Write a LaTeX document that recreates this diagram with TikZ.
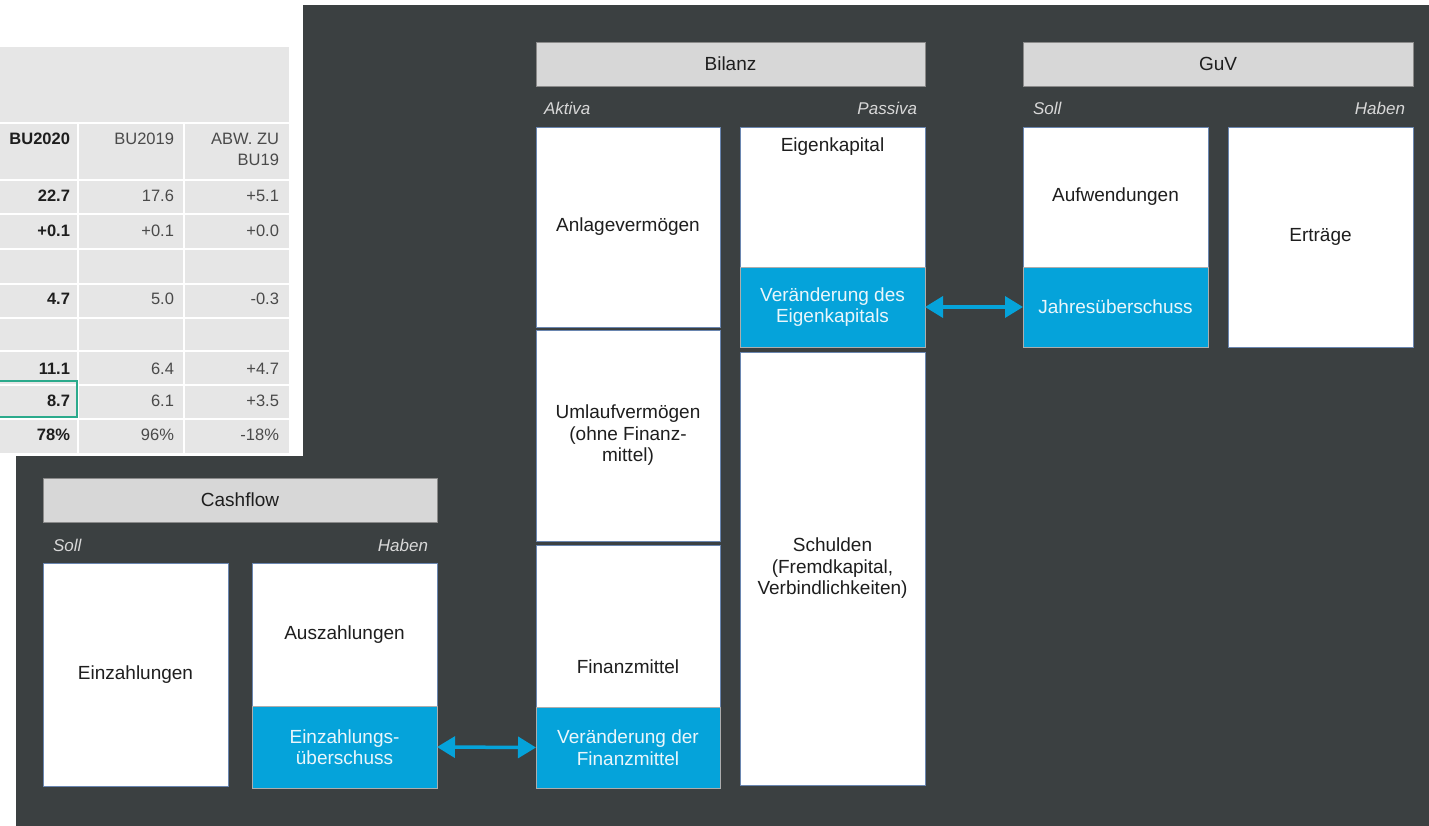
\documentclass[tikz,border=0pt]{standalone}
\usepackage{fontspec}
\setmainfont{Liberation Sans}
\usetikzlibrary{arrows.meta}
\definecolor{darkbg}{HTML}{3B4041}
\definecolor{cellgray}{HTML}{E6E6E6}
\definecolor{hdrgray}{HTML}{D7D7D7}
\definecolor{hdrline}{HTML}{8A8A8A}
\definecolor{boxline}{HTML}{6A86B0}
\definecolor{accent}{HTML}{05A3DA}
\definecolor{txt}{HTML}{1E1E1E}
\definecolor{lbl}{HTML}{D8D8D8}
\definecolor{tgray}{HTML}{4A4A4A}
\definecolor{tealgreen}{HTML}{2BAA8C}
\definecolor{bluetxt}{HTML}{EAF6FB}
\begin{document}
\begin{tikzpicture}[x=1pt,y=-1pt,
  every node/.style={inner sep=0pt, outer sep=0pt},
  wbox/.style={draw=boxline, fill=white, line width=0.8pt, anchor=north west, text=txt, align=center,
     font=\fontsize{19}{21.5}\selectfont},
  bbox/.style={draw=hdrline!70, fill=accent, line width=0.6pt, anchor=north west, text=bluetxt, align=center,
     font=\fontsize{19}{21.5}\selectfont},
  hbox/.style={draw=hdrline, fill=hdrgray, line width=0.8pt, anchor=north west, text=txt,
     font=\fontsize{19}{21.5}\selectfont},
  side/.style={text=lbl, font=\fontsize{17}{19}\selectfont\itshape},
  boldval/.style={anchor=base east, text=txt, font=\fontsize{16.5}{19}\selectfont\bfseries},
  regval/.style={anchor=base east, text=tgray, font=\fontsize{16.5}{19}\selectfont},
  arr/.style={{Triangle[length=18pt,width=21pt]}-{Triangle[length=18pt,width=21pt]}, line width=3.5pt, draw=accent, fill=accent}
]
\useasboundingbox (0,0) rectangle (1429,826);
\fill[white] (0,0) rectangle (1429,826);
\fill[darkbg] (16,5) rectangle (1429,826);
\fill[white] (0,0) rectangle (303,456);

% ---------- table ----------
\fill[cellgray] (0,47) rectangle (289,122);
\foreach \ya/\yb in {124/179,181/213,215/248,250/283,285/317,319/350,352/384,386/418,420/453}{
  \foreach \xa/\xb in {0/77,79/183,185/289}{
    \fill[cellgray] (\xa,\ya) rectangle (\xb,\yb);
  }
}
\draw[tealgreen, line width=2pt] (-2,381) rectangle (77,417);

\node[boldval] (h1) at (70,145) {BU2020};
\node[regval] (h2) at (174,145) {BU2019};
\node[regval] (h3) at (279,145) {ABW. ZU};
\node[regval] (h3b) at (279,166) {BU19};

\node[boldval] (r1a) at (70,202) {22.7};
\node[regval] (r1b) at (174,202) {17.6};
\node[regval] (r1c) at (279,202) {+5.1};

\node[boldval] (r2a) at (70,237) {+0.1};
\node[regval] (r2b) at (174,237) {+0.1};
\node[regval] (r2c) at (279,237) {+0.0};

\node[boldval] (r4a) at (70,305) {4.7};
\node[regval] (r4b) at (174,305) {5.0};
\node[regval] (r4c) at (279,305) {-0.3};

\node[boldval] (r6a) at (70,374) {11.1};
\node[regval] (r6b) at (174,374) {6.4};
\node[regval] (r6c) at (279,374) {+4.7};

\node[boldval] (r7a) at (70,406) {8.7};
\node[regval] (r7b) at (174,406) {6.1};
\node[regval] (r7c) at (279,406) {+3.5};

\node[boldval] (r8a) at (70,440) {78\%};
\node[regval] (r8b) at (174,440) {96\%};
\node[regval] (r8c) at (279,440) {-18\%};

% ---------- Bilanz ----------
\node[hbox, minimum width=389, minimum height=44] (bilanz) at (536,42) {Bilanz};
\node[side, anchor=west] (aktiva) at (544,108) {Aktiva};
\node[side, anchor=east] (passiva) at (917,108) {Passiva};

\node[wbox, minimum width=184, minimum height=200] (anlage) at (536,127) {Anlagevermögen};
\node[wbox, minimum width=184, minimum height=211] (umlauf) at (536,330) {Umlaufvermögen\\(ohne Finanz-\\mittel)};
\node[wbox, minimum width=184, minimum height=243] (finanz) at (536,545) {Finanzmittel};
\node[bbox, minimum width=184, minimum height=81] (finblue) at (536,707) {Veränderung der\\Finanzmittel};

\node[wbox, minimum width=185, minimum height=140] (eigen) at (740,127) {};
\node[text=txt, font=\fontsize{19}{21.5}\selectfont] (eigentxt) at (832.5,147) {Eigenkapital};
\node[bbox, minimum width=185, minimum height=80] (eigblue) at (740,267) {Veränderung des\\Eigenkapitals};
\node[wbox, minimum width=185, minimum height=433] (schulden) at (740,352) {Schulden\\(Fremdkapital,\\Verbindlichkeiten)};

% ---------- GuV ----------
\node[hbox, minimum width=390, minimum height=44] (guv) at (1023,42) {GuV};
\node[side, anchor=west] (gsoll) at (1033,108) {Soll};
\node[side, anchor=east] (ghaben) at (1405,108) {Haben};
\node[wbox, minimum width=185, minimum height=140] (aufw) at (1023,127) {Aufwendungen};
\node[bbox, minimum width=185, minimum height=80] (jue) at (1023,267) {Jahresüberschuss};
\node[wbox, minimum width=185, minimum height=220] (ertraege) at (1228,127) {Erträge};

% ---------- Cashflow ----------
\node[hbox, minimum width=394, minimum height=44] (cashflow) at (43,478) {Cashflow};
\node[side, anchor=west] (csoll) at (53,545) {Soll};
\node[side, anchor=east] (chaben) at (428,545) {Haben};
\node[wbox, minimum width=185, minimum height=223] (einz) at (43,563) {Einzahlungen};
\node[wbox, minimum width=185, minimum height=143] (ausz) at (252,563) {Auszahlungen};
\node[bbox, minimum width=185, minimum height=82] (einzue) at (252,706) {Einzahlungs-\\überschuss};

% ---------- arrows ----------
\draw[arr] (einzue.east) -- (finblue.west);
\draw[arr] (eigblue.east) -- (jue.west);
\end{tikzpicture}
\end{document}
